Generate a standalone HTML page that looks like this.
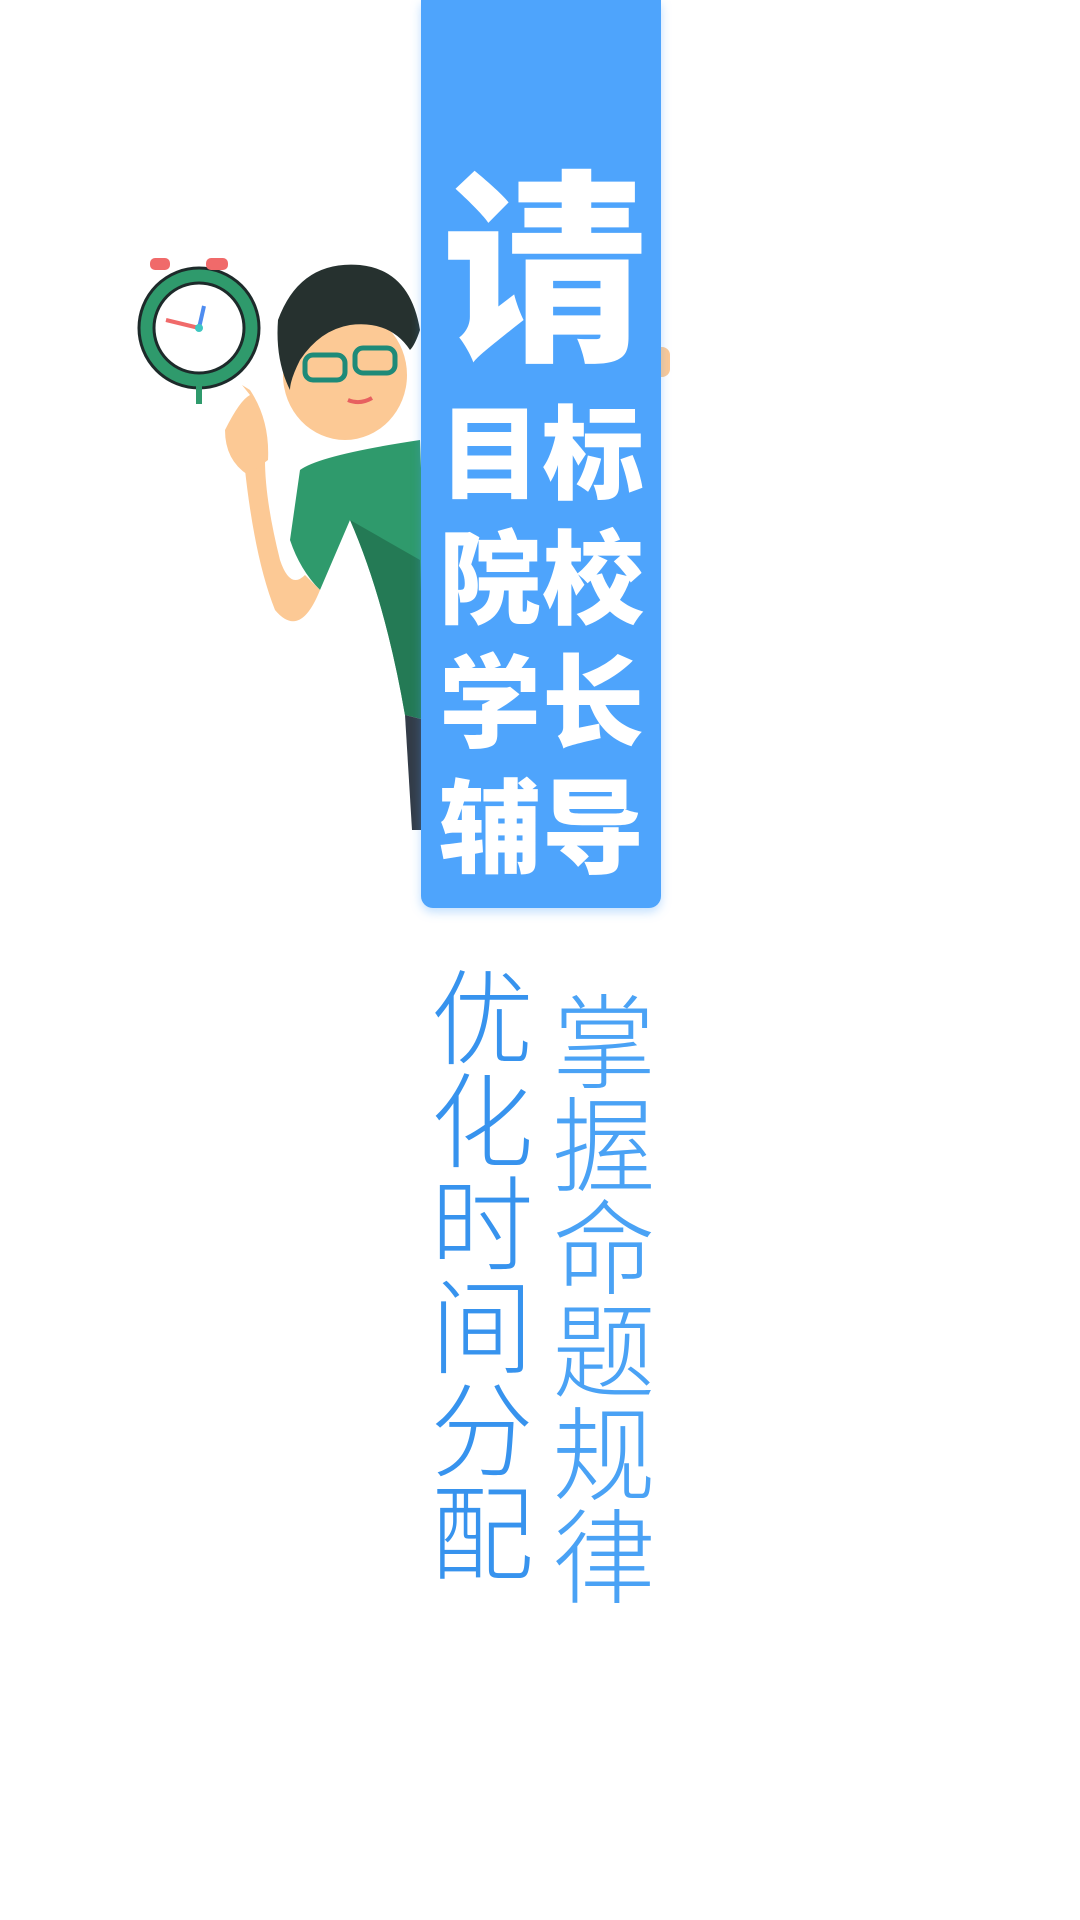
<!DOCTYPE html>
<html><head><meta charset="utf-8">
<style>
html,body{margin:0;padding:0;background:#fff;}
body{width:1080px;height:1920px;position:relative;overflow:hidden;font-family:"Liberation Sans","Noto Sans CJK SC",sans-serif;}
.abs{position:absolute;}
#banner{left:421px;top:0;width:240px;height:908px;background:#4ea4fc;border-radius:0 0 12px 12px;box-shadow:0 4px 10px rgba(78,164,252,.35);}
.big{color:#fff;font-weight:900;font-family:"Noto Sans CJK SC",sans-serif;line-height:1;position:absolute;}
.col{position:absolute;font-family:"Noto Sans CJK SC",sans-serif;font-weight:300;font-size:103px;line-height:103px;width:110px;text-align:center;}
</style></head><body>
<svg class="abs" style="left:0;top:0" width="1080" height="1000">
 <g>
  <circle cx="199" cy="328" r="60" fill="#2f9a6c" stroke="#1d2a2a" stroke-width="3"/>
  <circle cx="199" cy="328" r="45" fill="#fff" stroke="#1d2a2a" stroke-width="3"/>
  <line x1="199" y1="328" x2="166" y2="320" stroke="#f06a6a" stroke-width="4"/>
  <line x1="199" y1="328" x2="204" y2="306" stroke="#4e8cf0" stroke-width="4"/>
  <circle cx="199" cy="328" r="4" fill="#3fc6c0"/>
  <rect x="150" y="258" width="20" height="12" rx="5" fill="#f06a6a"/>
  <rect x="206" y="258" width="22" height="12" rx="5" fill="#f06a6a"/>
  <rect x="196" y="386" width="6" height="18" fill="#2f9a6c"/>
 </g>
 <path d="M300 470 Q320 455 420 440 L430 720 L405 715 Q385 600 350 520 L320 590 Q300 570 290 540 Z" fill="#2f9a6c"/>
 <path d="M350 520 Q385 600 405 715 L425 720 L420 560 Z" fill="#247a55"/>
 <path d="M405 715 L412 830 L425 830 L425 720 Z" fill="#333c48"/>
 <path d="M245 470 Q255 560 275 610 Q300 640 320 590 L305 575 Q290 590 280 560 Q265 500 265 460 Z" fill="#fcc995"/>
 <path d="M225 430 Q240 400 250 395 L242 385 L250 390 Q270 420 268 460 L248 475 Q225 460 225 430Z" fill="#fcc995"/>
 <ellipse cx="345" cy="375" rx="62" ry="65" fill="#fcc995"/>
 <path d="M278 320 Q300 260 360 265 Q410 270 420 330 Q415 345 410 350 Q390 320 350 325 Q320 330 300 360 Q290 380 290 390 Q275 360 278 320Z" fill="#26312f"/>
 <rect x="305" y="355" width="40" height="25" rx="8" fill="none" stroke="#1e8a78" stroke-width="5"/>
 <rect x="355" y="348" width="40" height="25" rx="8" fill="none" stroke="#1e8a78" stroke-width="5"/>
 <path d="M348 400 Q360 405 372 398" stroke="#e76060" stroke-width="4" fill="none"/>
 <rect x="650" y="347" width="20" height="30" rx="8" fill="#fcc995"/>
</svg>
<div id="banner" class="abs"></div>
<div class="big" style="left:442px;top:153px;font-size:205px;">请</div>
<div class="big" style="left:439px;top:397px;font-size:102px;letter-spacing:1px;">目标</div>
<div class="big" style="left:439px;top:522px;font-size:102px;letter-spacing:1px;">院校</div>
<div class="big" style="left:439px;top:646px;font-size:102px;letter-spacing:1px;">学长</div>
<div class="big" style="left:439px;top:771px;font-size:102px;letter-spacing:1px;">辅导</div>
<div class="col" style="left:427px;top:960px;color:#3793ee;">优<br>化<br>时<br>间<br>分<br>配</div>
<div class="col" style="left:549px;top:984px;color:#4aa2f5;">掌<br>握<br>命<br>题<br>规<br>律</div>
</body></html>
